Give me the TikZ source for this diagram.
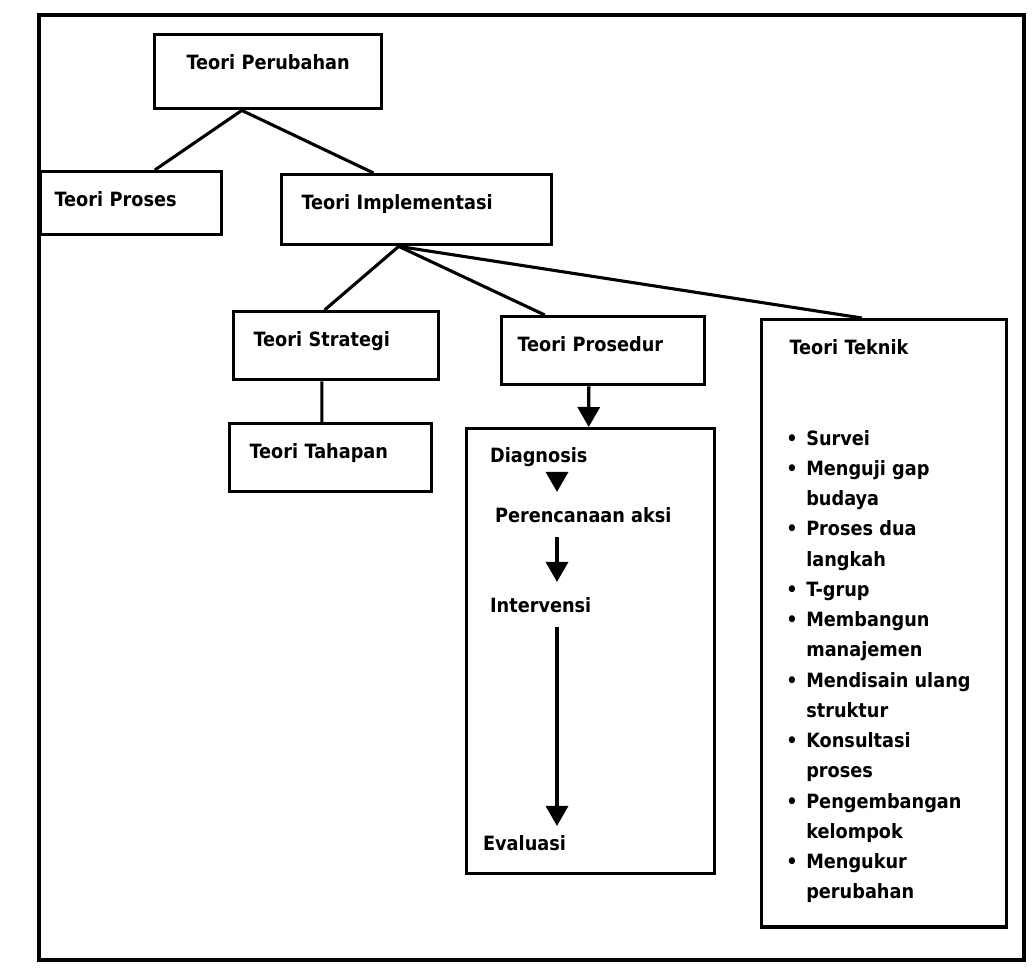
\documentclass[tikz,border=0pt]{standalone}
\usepackage{fontspec}
\setmainfont{DejaVu Sans Condensed}
\usetikzlibrary{arrows.meta}

\newcommand{\bul}{\makebox[0.5cm][l]{\textbullet}}
\newcommand{\ind}{\hspace*{0.5cm}}

\tikzset{
  box/.style={draw, line width=2.4pt, anchor=north west, align=left,
    inner xsep=0.5cm, inner ysep=0pt, text height=0.875cm},
  garis/.style={line width=2.2pt},
  panah/.style={line width=2.4pt, -{Triangle[width=0.55cm,length=0.5cm]}},
  tahap/.style={anchor=base west, inner sep=2pt},
}

\begin{document}
\begin{tikzpicture}[x=0.025cm, y=-0.025cm, font=\bfseries\fontsize{14}{21.5}\selectfont]
\useasboundingbox (0,0) rectangle (1033,971);
\draw[garis] (39,15) rectangle (1024,960);

\node[box, align=center, text width=4.675cm, text depth=0.975cm] (perubahan) at (153,33) {Teori Perubahan};
\node[box, inner xsep=0.35cm, text width=3.825cm, text depth=0.7cm] (proses) at (39,170) {Teori Proses};
\node[box, text width=5.75cm, text depth=0.875cm] (implementasi) at (280,173) {Teori Implementasi};
\node[box, text width=4.125cm, text depth=0.825cm] (strategi) at (232,310) {Teori Strategi};
\node[box, inner xsep=0.4cm, text width=4.275cm, text depth=0.825cm] (prosedur) at (500,315) {Teori Prosedur};
\node[box, text width=4.05cm, text depth=0.825cm] (tahapan) at (228,422) {Teori Tahapan};
\node[box, text width=5.2cm, text depth=10.25cm] (langkah) at (465,427) {};
\node[box, inner xsep=0.7cm, text width=4.725cm, text depth=14.3cm] (teknik) at (760,318) {Teori Teknik};

% hubungan antar teori
\draw[garis] ([xshift=-0.66cm]perubahan.south) -- ([xshift=0.59cm]proses.north);
\draw[garis] ([xshift=-0.66cm]perubahan.south) -- ([xshift=-1.08cm]implementasi.north);
\draw[garis] ([xshift=-0.45cm]implementasi.south) -- ([xshift=-0.29cm]strategi.north);
\draw[garis] ([xshift=-0.45cm]implementasi.south) -- ([xshift=-1.46cm]prosedur.north);
\draw[garis] ([xshift=-0.45cm]implementasi.south) -- ([xshift=-0.56cm]teknik.north);
\draw[garis] ([xshift=-0.36cm]strategi.south) -- ([xshift=-0.22cm]tahapan.north);
\draw[panah] ([xshift=-0.36cm]prosedur.south) -- ([xshift=-0.05cm]langkah.north);

% tahapan prosedur
\node[tahap] (diag) at (487,462) {Diagnosis};
\node[tahap] (renc) at (492,522) {Perencanaan aksi};
\node[tahap] (interv) at (487,612) {Intervensi};
\node[tahap] (eval) at (480,850) {Evaluasi};
\coordinate (kolom) at (557,0);
\draw[panah, shorten <=0.1cm, shorten >=0.3cm] (diag.south -| kolom) -- (renc.north -| kolom);
\draw[panah, shorten <=0.3cm, shorten >=0.3cm] (renc.south -| kolom) -- (interv.north -| kolom);
\draw[panah, shorten <=0.3cm, shorten >=0.15cm] (interv.south -| kolom) -- (eval.north -| kolom);

% daftar teknik
\node[anchor=north west, align=left, inner sep=0pt] (daftar) at (786,430)
  {\bul Survei\\ \bul Menguji gap\\ \ind budaya\\ \bul Proses dua\\ \ind langkah\\
   \bul T-grup\\ \bul Membangun\\ \ind manajemen\\ \bul Mendisain ulang\\ \ind struktur\\
   \bul Konsultasi\\ \ind proses\\ \bul Pengembangan\\ \ind kelompok\\ \bul Mengukur\\
   \ind perubahan};
\end{tikzpicture}
\end{document}
